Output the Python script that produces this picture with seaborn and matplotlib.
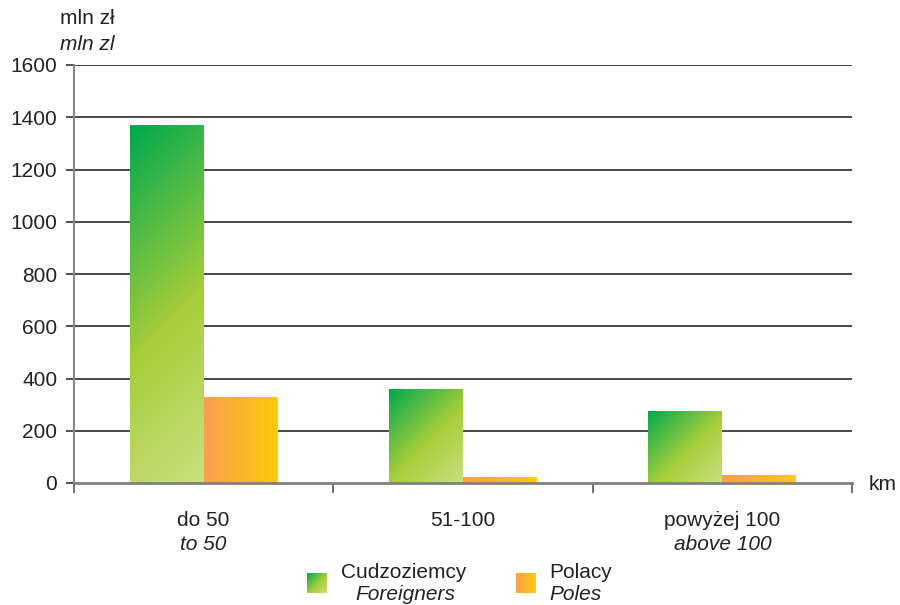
import numpy as np
import pandas as pd
import matplotlib
matplotlib.use("Agg")
import matplotlib.pyplot as plt
import seaborn as sns
from matplotlib.colors import LinearSegmentedColormap

categories = ["do 50", "51-100", "powyżej 100"]
categories_en = ["to 50", "", "above 100"]
foreigners = [1370, 360, 276]
poles = [329, 23, 31]
series_pl = ["Cudzoziemcy", "Polacy"]
series_en = ["Foreigners", "Poles"]
yticks = [0, 200, 400, 600, 800, 1000, 1200, 1400, 1600]

sns.set_theme(style="white")
plt.rcParams['font.family'] = ['Liberation Sans', 'DejaVu Sans']
FS = 15

df = pd.DataFrame({
    "dist": categories * 2,
    "value": foreigners + poles,
    "group": [series_pl[0]] * 3 + [series_pl[1]] * 3,
})

W, H = 900, 605
fig = plt.figure(figsize=(9, 6.05), dpi=100)
ax = fig.add_axes([74 / W, 1 - 483 / H, (852 - 74) / W, (483 - 65) / H])

sns.barplot(data=df, x="dist", y="value", hue="group", width=0.57,
            palette=["#5cb848", "#fbb830"], ax=ax, legend=False,
            saturation=1, edgecolor="none", linewidth=0, zorder=3)

ax.set_ylim(0, 1600)
ax.set_xlim(-0.5, 2.5)
ax.set_yticks(yticks)
ax.set_yticklabels([str(v) for v in yticks], fontsize=FS, color="#222")
for v in yticks[1:]:
    ax.axhline(v, color="#2a2a2a", lw=1.2, zorder=1)
ax.set_xticks([-0.5, 0.5, 1.5, 2.5])
ax.set_xticklabels([])
ax.tick_params(axis="x", direction="out", length=7, width=1.2, color="#555", bottom=True)
ax.tick_params(axis="y", direction="out", length=6, width=1.2, color="#333", pad=6, left=True)
ax.set_xlabel("")
ax.set_ylabel("")
for s in ["top", "right"]:
    ax.spines[s].set_visible(False)
ax.spines["left"].set_color("#888")
ax.spines["left"].set_linewidth(1.5)
ax.spines["bottom"].set_color("#808080")
ax.spines["bottom"].set_linewidth(2)
ax.spines["bottom"].set_zorder(5)

green_cmap = LinearSegmentedColormap.from_list(
    "g", [(0, "#00a94f"), (0.55, "#a6cd39"), (1, "#cadf80")])
orange_cmap = LinearSegmentedColormap.from_list(
    "o", [(0, "#f6a04c"), (1, "#ffca0a")])

fig.canvas.draw()
n = len(categories)
for i, p in enumerate(ax.patches[:2 * n]):
    x0, y0 = p.get_x(), p.get_y()
    w, h = p.get_width(), p.get_height()
    if h <= 0:
        continue
    (px0, py0) = ax.transData.transform((x0, y0))
    (px1, py1) = ax.transData.transform((x0 + w, y0 + h))
    pw, ph = abs(px1 - px0), abs(py1 - py0)
    nx, ny = 100, 100
    u = np.linspace(0, 1, nx)[None, :] * np.ones((ny, 1))
    vdown = np.linspace(0, 1, ny)[:, None] * np.ones((1, nx))  # 0 at top
    if i < n:
        t = (u * pw + vdown * ph) / (pw + ph)
        cmap = green_cmap
    else:
        t = u
        cmap = orange_cmap
    im = ax.imshow(t, cmap=cmap, vmin=0, vmax=1, aspect="auto",
                   extent=(x0, x0 + w, y0, y0 + h), origin="upper",
                   zorder=4, interpolation="bilinear")
    im.set_clip_path(p)
    p.set_alpha(0)
ax.set_xlim(-0.5, 2.5)
ax.set_ylim(0, 1600)

xt = ax.get_xaxis_transform()
for i in range(n):
    ax.text(i, -38 / 418, categories[i], transform=xt, ha="center", va="center",
            fontsize=FS, color="#222")
    if categories_en[i]:
        ax.text(i, -62 / 418, categories_en[i], transform=xt, ha="center", va="center",
                fontsize=FS, color="#222", style="italic")

fig.text(87 / W, 1 - 19 / H, "mln zł", ha="center", va="center", fontsize=FS, color="#222")
fig.text(87 / W, 1 - 45 / H, "mln zl", ha="center", va="center", fontsize=FS,
         color="#222", style="italic")
fig.text(869 / W, 1 - 485 / H, "km", ha="left", va="center", fontsize=FS, color="#222")

# legend
def grad_square(x, y, cmap, diag):
    lax = fig.add_axes([x / W, 1 - (y + 20) / H, 20 / W, 20 / H])
    u = np.linspace(0, 1, 50)[None, :] * np.ones((50, 1))
    v = np.linspace(0, 1, 50)[:, None] * np.ones((1, 50))
    t = (u + v) / 2 if diag else u
    lax.imshow(t, cmap=cmap, vmin=0, vmax=1, aspect="auto", interpolation="bilinear")
    lax.axis("off")

grad_square(307, 573, green_cmap, True)
grad_square(516, 573, orange_cmap, False)
fig.text(404 / W, 1 - 572 / H, series_pl[0], ha="center", va="center", fontsize=FS, color="#222")
fig.text(405 / W, 1 - 594 / H, series_en[0], ha="center", va="center", fontsize=FS,
         color="#222", style="italic")
fig.text(549 / W, 1 - 572 / H, series_pl[1], ha="left", va="center", fontsize=FS, color="#222")
fig.text(549 / W, 1 - 594 / H, series_en[1], ha="left", va="center", fontsize=FS,
         color="#222", style="italic")

fig.savefig("out.png", dpi=100)
